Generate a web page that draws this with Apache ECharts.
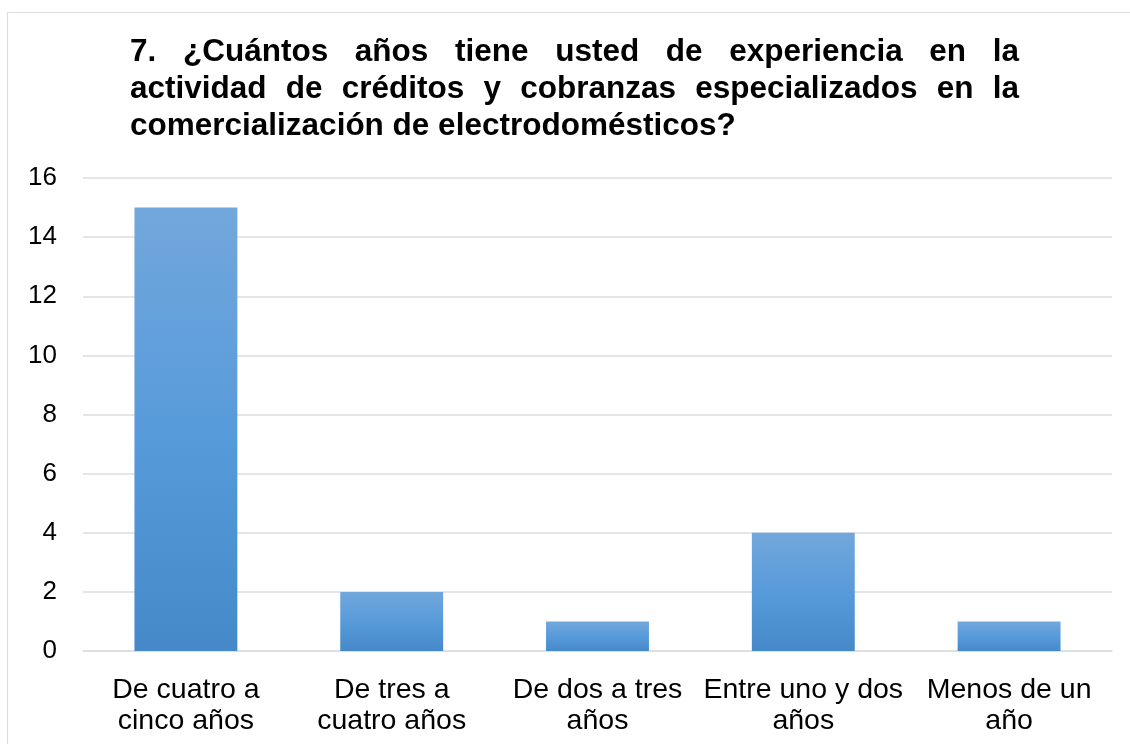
<!DOCTYPE html>
<html><head><meta charset="utf-8">
<script src="https://cdn.jsdelivr.net/npm/echarts@6/dist/echarts.min.js"></script>
<style>html,body{margin:0;padding:0;background:#fff}#c{width:1130px;height:744px}</style>
</head><body><div id="c"></div>
<script>
const categories = ['De cuatro a\ncinco años', 'De tres a\ncuatro años', 'De dos a tres\naños', 'Entre uno y dos\naños', 'Menos de un\naño'];
const values = [15, 2, 1, 4, 1];
const yTicks = [0, 2, 4, 6, 8, 10, 12, 14, 16];
const titleLines = [
  '7. ¿Cuántos años tiene usted de experiencia en la',
  'actividad de créditos y cobranzas especializados en la',
  'comercialización de electrodomésticos?'
];

const FAMILY = '"Liberation Sans", Arial, sans-serif';
const TITLE_SIZE = 31.5;
const TITLE_WIDTH = 889;
const ctx = document.createElement('canvas').getContext('2d');
ctx.font = 'bold ' + TITLE_SIZE + 'px ' + FAMILY;
const rich = {w: {fontFamily: FAMILY, fontWeight: 'bold', fontSize: TITLE_SIZE, color: '#000', lineHeight: 37}};
function justify(line, idx, last) {
  const words = line.split(' ');
  if (last) return '{w|' + line + '}';
  const total = words.reduce((s, w) => s + ctx.measureText(w).width, 0);
  const gap = (TITLE_WIDTH - total) / (words.length - 1);
  rich['g' + idx] = {width: gap, lineHeight: 37};
  return words.map(w => '{w|' + w + '}').join('{g' + idx + '|}');
}
const titleText = titleLines.map((l, i) => justify(l, i, i === titleLines.length - 1)).join('\n');

const chart = echarts.init(document.getElementById('c'));
chart.setOption({
  animation: false,
  backgroundColor: '#fff',
  graphic: [{type: 'rect', shape: {x: 7.5, y: 12.5, width: 1130, height: 740}, style: {fill: 'none', stroke: '#dadde2', lineWidth: 1.2}}],
  title: {text: titleText, left: 130, top: 34, padding: 0, textStyle: {rich: rich}},
  grid: {left: 83, right: 18, top: 178, bottom: 93, containLabel: false},
  xAxis: {
    type: 'category', data: categories,
    axisLine: {lineStyle: {color: '#dadde2', width: 1.5}},
    axisTick: {show: false},
    axisLabel: {color: '#000', fontSize: 28.5, fontFamily: FAMILY, lineHeight: 31.5, margin: 23, interval: 0}
  },
  yAxis: {
    type: 'value', min: 0, max: 16, interval: 2,
    axisLine: {show: false}, axisTick: {show: false},
    splitLine: {lineStyle: {color: '#dadde2', width: 1.5}},
    axisLabel: {color: '#000', fontSize: 26, fontFamily: FAMILY, margin: 26,
      formatter: v => yTicks.includes(v) ? String(v) : ''}
  },
  series: [{
    type: 'bar', data: values, barCategoryGap: '50%',
    itemStyle: {color: new echarts.graphic.LinearGradient(0, 0, 0, 1, [
      {offset: 0, color: '#72a7dc'}, {offset: 0.5, color: '#589bda'}, {offset: 1, color: '#4589c8'}
    ])}
  }]
});
</script></body></html>
